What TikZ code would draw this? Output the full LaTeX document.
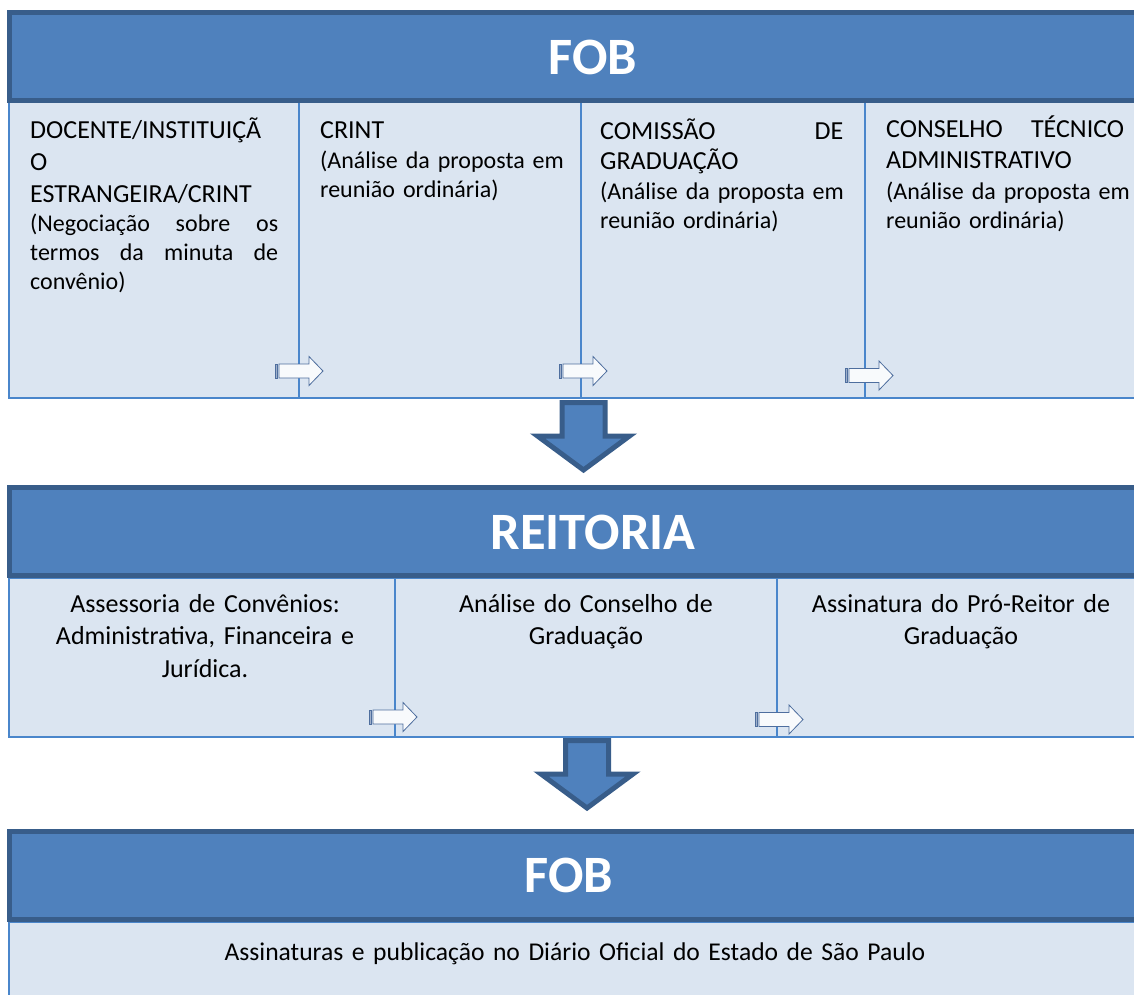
\documentclass[tikz,border=0pt]{standalone}
\usepackage{fontspec}
\setmainfont{Carlito}
\usepackage{xcolor}
\usepackage{tikz}

\definecolor{headblue}{HTML}{4F81BD}
\definecolor{headedge}{HTML}{385D8A}
\definecolor{stagefill}{HTML}{DBE5F1}
\definecolor{stageedge}{HTML}{4A86CB}
\definecolor{tipedge}{HTML}{4E6E9E}

\newcommand{\ttl}[1]{{\fontsize{26}{29}\selectfont #1}}

\begin{document}
\begin{tikzpicture}[x=1pt, y=-1pt,
    head/.style={draw=headedge, fill=headblue, line width=5pt, inner sep=0pt, outer sep=0pt,
        anchor=north west, minimum width=1150pt, minimum height=88pt},
    headtxt/.style={text=white, font=\fontsize{52.5}{60}\selectfont\bfseries, anchor=base, inner sep=0pt},
    stage/.style={draw=stageedge, fill=stagefill, line width=2pt, inner sep=0pt, outer sep=0pt, anchor=north west},
    stagetxt/.style={font=\fontsize{24}{29}\selectfont, anchor=base west, inner sep=0pt, text width=262pt, align=left},
    midtxt/.style={font=\fontsize{26}{32.5}\selectfont, anchor=base, inner sep=0pt, text width=380pt, align=center},
    bigdown/.style={draw=headedge, fill=headblue, line width=5pt, miter limit=10},
    smalltip/.style={draw=tipedge, fill=white!80!stagefill, line width=0.8pt}]
    \useasboundingbox (0,0) rectangle (1134,994);
    \clip (0,0) rectangle (1134,994);

    % FOB
    \node[stage, minimum width=290.5pt, minimum height=296pt] (docente) at (8.5,102) {};
    \node[stage, minimum width=282pt, minimum height=296pt] (crint) at (299,102) {};
    \node[stage, minimum width=284pt, minimum height=296pt] (comissao) at (581,102) {};
    \node[stage, minimum width=285pt, minimum height=296pt] (conselho) at (865,102) {};
    \node[head] (fob) at (9.5,12.5) {};
    \node[headtxt] (fobtxt) at (593,74) {FOB};
    \node[stagetxt] (docentetxt) at (30,138) {\ttl{DOCENTE/INSTITUIÇÃ}\\[3pt]\ttl{O}\\[3pt]\ttl{ESTRANGEIRA/CRINT}\\
        \makebox[248pt][s]{(Negociação\hfill sobre\hfill os}\\\makebox[248pt][s]{termos\hfill da\hfill minuta\hfill de}\\convênio)};
    \node[stagetxt] (crinttxt) at (320,138) {\ttl{CRINT}\\[1pt](Análise da proposta em\\reunião ordinária)};
    \node[stagetxt] (comissaotxt) at (600,139) {\ttl{\makebox[243pt][s]{COMISSÃO\hfill DE}}\\[1pt]\ttl{GRADUAÇÃO}\\[1pt]
        (Análise da proposta em\\reunião ordinária)};
    \node[stagetxt] (conselhotxt) at (886,137) {\ttl{\makebox[238pt][s]{CONSELHO\hfill TÉCNICO}}\\[2pt]\ttl{ADMINISTRATIVO}\\[2pt]
        (Análise da proposta em\\reunião ordinária)};

    % REITORIA
    \node[stage, minimum width=386.5pt, minimum height=159pt] (assessoria) at (8.5,578) {};
    \node[stage, minimum width=382pt, minimum height=159pt] (analise) at (395,578) {};
    \node[stage, minimum width=373pt, minimum height=159pt] (assinatura) at (777,578) {};
    \node[head] (reitoria) at (9.5,487.5) {};
    \node[headtxt] (reitoriatxt) at (593,549) {REITORIA};
    \node[midtxt] (assessoriatxt) at (205,612) {Assessoria de Convênios:\\Administrativa, Financeira e\\Jurídica.};
    \node[midtxt] (analisetxt) at (586,612) {Análise do Conselho de\\Graduação};
    \node[midtxt] (assinaturatxt) at (961,612) {Assinatura do Pró-Reitor de\\Graduação};

    % FOB final
    \node[stage, minimum width=1142pt, minimum height=90pt] (publicacao) at (8.5,922) {};
    \node[head] (fobfim) at (9.5,831.5) {};
    \node[headtxt] (fobfimtxt) at (569,892) {FOB};
    \node[midtxt, text width=800pt, font=\fontsize{25.6}{30}\selectfont] (publicacaotxt) at (575,960)
        {Assinaturas e publicação no Diário Oficial do Estado de São Paulo};

    % small arrows between stages
    \foreach \l/\c in {275/371, 559/371, 845/375.5, 369/717, 755/719.5} {
        \draw[smalltip] ({\l+4},{\c-7}) -- ({\l+34},{\c-7}) -- ({\l+34},{\c-14.5}) -- ({\l+48},\c)
            -- ({\l+34},{\c+14.5}) -- ({\l+34},{\c+7}) -- ({\l+4},{\c+7}) -- cycle;
        \draw[smalltip, fill=tipedge!55] (\l,{\c-7}) rectangle ({\l+2.5},{\c+7});
    }

    % big arrows down
    \foreach \x/\y in {583.5/400, 587/738} {
        \draw[bigdown] ({\x-21.5},{\y+2.5}) -- ({\x+21.5},{\y+2.5}) -- ({\x+21.5},{\y+36})
            -- ({\x+46},{\y+36}) -- (\x,{\y+70}) -- ({\x-46},{\y+36}) -- ({\x-21.5},{\y+36}) -- cycle;
    }
\end{tikzpicture}
\end{document}
